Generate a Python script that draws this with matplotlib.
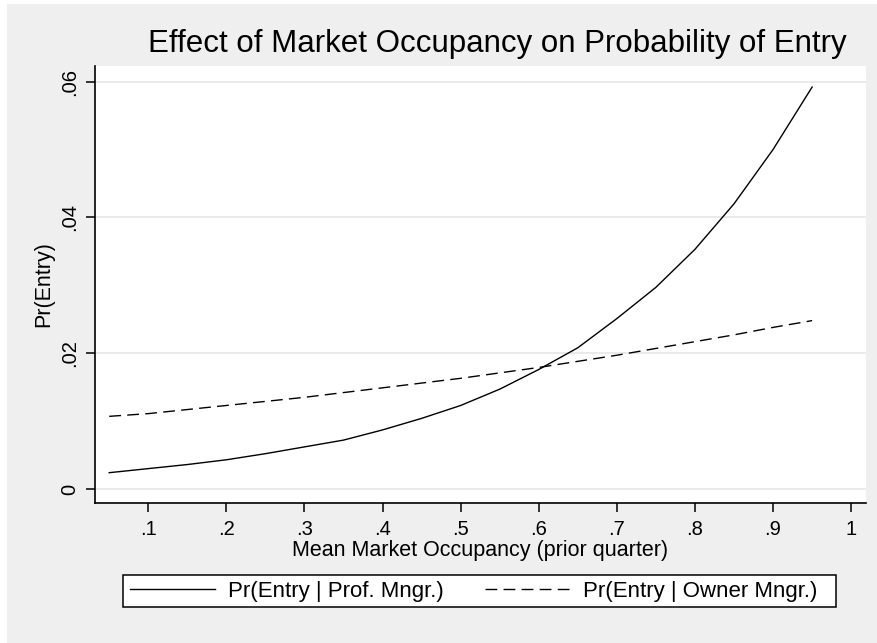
import matplotlib
matplotlib.use("Agg")
import matplotlib.pyplot as plt
from matplotlib.patches import Rectangle

plt.rcParams['font.family'] = ['Liberation Sans', 'DejaVu Sans']

# market occupancy (prior quarter)
occupancy = [0.05, 0.10, 0.15, 0.20, 0.25, 0.30, 0.35, 0.40, 0.45, 0.50,
             0.55, 0.60, 0.65, 0.70, 0.75, 0.80, 0.85, 0.90, 0.95]
pr_prof = [0.0024, 0.0030, 0.0036, 0.0043, 0.0052, 0.0062, 0.0072, 0.0087, 0.0104, 0.0123,
           0.0147, 0.0176, 0.0208, 0.0251, 0.0297, 0.0353, 0.0420, 0.0500, 0.0592]
pr_owner = [0.0107, 0.0111, 0.0117, 0.0123, 0.0129, 0.0135, 0.0142, 0.0149, 0.0156, 0.0163,
            0.0171, 0.0179, 0.0188, 0.0197, 0.0207, 0.0217, 0.0227, 0.0238, 0.0248]

xticks = [0.1, 0.2, 0.3, 0.4, 0.5, 0.6, 0.7, 0.8, 0.9, 1.0]
xtick_labels = ['.1', '.2', '.3', '.4', '.5', '.6', '.7', '.8', '.9', '1']
yticks = [0, 0.02, 0.04, 0.06]
ytick_labels = ['0', '.02', '.04', '.06']

W, H = 878, 643
fig = plt.figure(figsize=(W / 100, H / 100), dpi=100, facecolor='white')
# grey graph region (white margin at left and top)
fig.patches.append(Rectangle((7 / W, 0), 1, 1 - 4 / H, transform=fig.transFigure,
                             facecolor='#efefef', edgecolor='none', zorder=-10))

left, right, top, bottom = 95, 866, 66, 502.7
ax = fig.add_axes([left / W, 1 - bottom / H, (right - left) / W, (bottom - top) / H])
ax.set_facecolor('white')

ax.plot(occupancy, pr_prof, color='black', lw=1.0, label='Pr(Entry | Prof. Mngr.)')
ax.plot(occupancy, pr_owner, color='black', lw=1.0, dashes=(8.5, 4.5),
        label='Pr(Entry | Owner Mngr.)')

ax.set_xlim(0.0318, 1.019)
ax.set_ylim(-0.00202, 0.0623)
ax.set_xticks(xticks)
ax.set_xticklabels(xtick_labels)
ax.set_yticks(yticks)
ax.set_yticklabels(ytick_labels)
ax.yaxis.grid(True, color='#e8e8e8', lw=1.3)
ax.set_axisbelow(True)

for s in ['top', 'right']:
    ax.spines[s].set_visible(False)
for s in ['left', 'bottom']:
    ax.spines[s].set_linewidth(1.2)
    ax.spines[s].set_color('black')

ax.tick_params(axis='both', length=6.5, width=1.1, labelsize=14.5, color='black')
ax.tick_params(axis='y', labelrotation=90, pad=5)
ax.tick_params(axis='x', pad=6)
for lab in ax.get_yticklabels():
    lab.set_va('center')

ax.set_xlabel('Mean Market Occupancy (prior quarter)', fontsize=15.5, labelpad=1)
ax.set_ylabel('Pr(Entry)', fontsize=15.5, labelpad=4)

fig.text(497 / W, 1 - 52 / H, 'Effect of Market Occupancy on Probability of Entry',
         fontsize=22.5, ha='center', va='baseline')

# legend box drawn separately, legend itself without frame
lx0, lx1, ly0, ly1 = 123, 836, 575, 607
fig.patches.append(Rectangle((lx0 / W, 1 - ly1 / H), (lx1 - lx0) / W, (ly1 - ly0) / H,
                             transform=fig.transFigure, facecolor='white',
                             edgecolor='black', lw=1.1, zorder=1))
leg = fig.legend(loc='center', bbox_to_anchor=(474 / W, 1 - 591 / H), ncol=2,
                 fontsize=16, frameon=False, handlelength=3.8, handletextpad=0.62,
                 columnspacing=1.85, borderpad=0.2)
leg.set_zorder(2)

fig.savefig('out.png', dpi=100, facecolor=fig.get_facecolor())
